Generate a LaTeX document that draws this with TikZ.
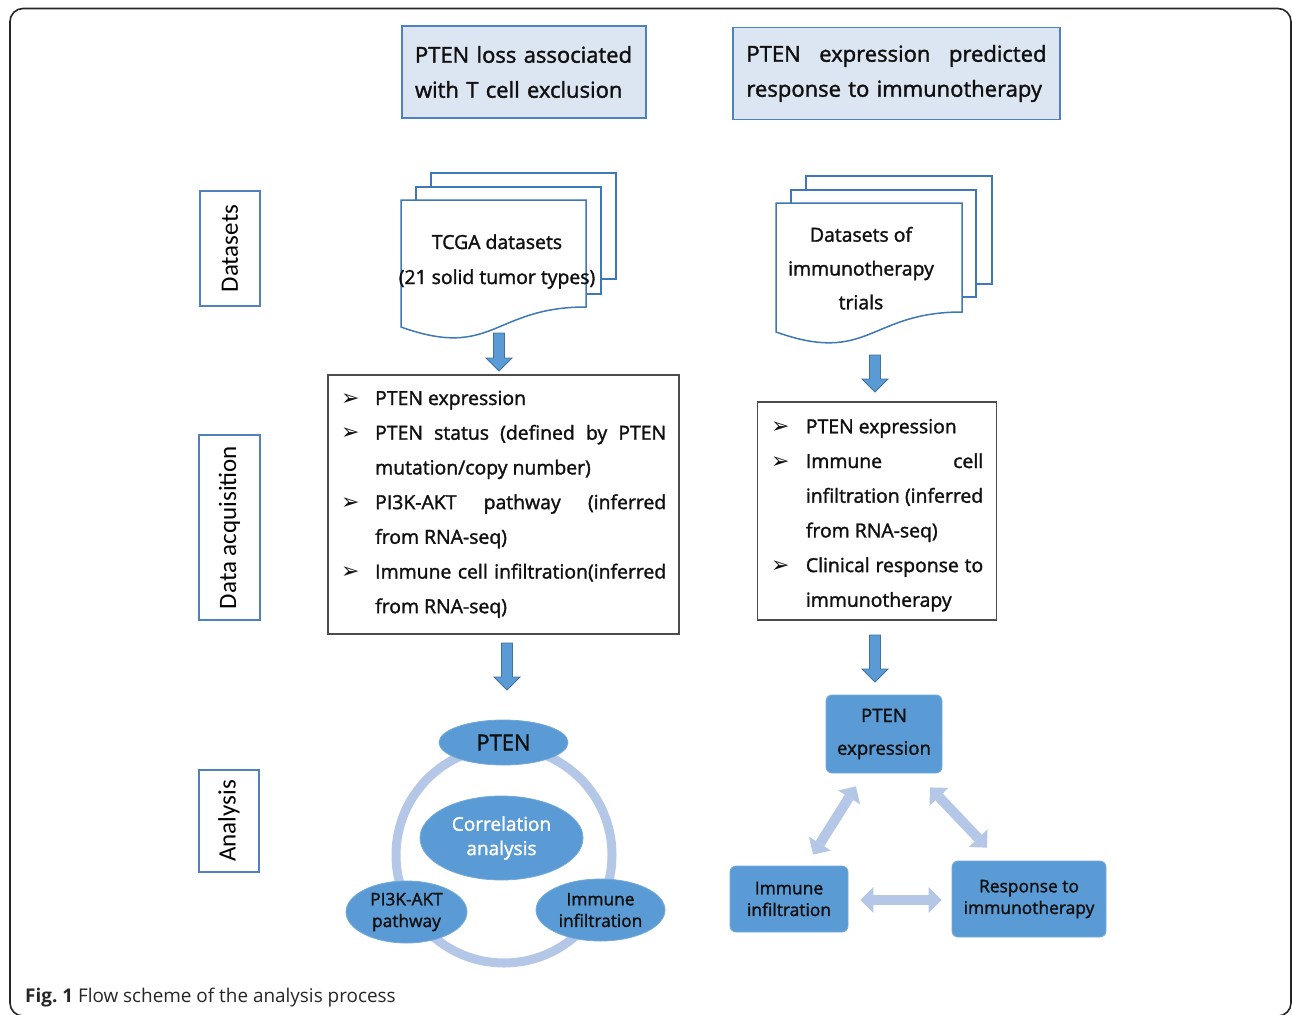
\documentclass[tikz,border=0pt]{standalone}
\usepackage{fontspec}
\setmainfont{Open Sans}
\newfontfamily\med{Open Sans}[FakeBold=1.6]
\newfontfamily\carl{Carlito}
\newfontfamily\djv{DejaVu Sans}
\usetikzlibrary{calc,arrows.meta,shapes.geometric}
\definecolor{topfill}{HTML}{DCE6F2}
\definecolor{boxblue}{HTML}{4F81BD}
\definecolor{docblue}{HTML}{3E78B6}
\definecolor{nodeblue}{HTML}{5B9BD5}
\definecolor{lightblue}{HTML}{B4C7E7}
\definecolor{arrowdark}{HTML}{41719C}
\definecolor{txt}{HTML}{101010}
\newcommand\lfont{\med\fontsize{19.4}{34.7}\selectfont}
\newcommand\jl[2]{\makebox[#1pt][s]{#2}}
\newcommand\blockdown[2]{%
  \filldraw[barrow] ($(#1)+(-5.5,0)$) -- ($(#1)+(5.5,0)$) -- ($(#2)+(5.5,-13)$) -- ($(#2)+(13,-13)$) -- (#2) -- ($(#2)+(-13,-13)$) -- ($(#2)+(-5.5,-13)$) -- cycle;}
\tikzset{
  topbox/.style={draw=boxblue, line width=1.5pt, fill=topfill, inner ysep=0pt, align=left, text=txt, font=\med\fontsize{22}{35}\selectfont},
  lbl/.style={draw=boxblue, line width=1.6pt, fill=white, rotate=90, inner sep=0pt, text=black, font=\carl\fontsize{25}{25}\selectfont},
  docpath/.style={draw=docblue, line width=1.5pt, fill=white},
  doctxt/.style={anchor=base, inner sep=0pt, text=txt, font=\lfont},
  listbox/.style={draw=black!70, line width=1.2pt, fill=white, inner sep=0pt},
  ltxt/.style={anchor=base west, inner sep=0pt, text=txt, font=\lfont},
  bul/.style={anchor=base west, inner sep=0pt, text=txt, font=\djv\fontsize{22}{22}\selectfont},
  barrow/.style={fill=nodeblue, draw=arrowdark, line width=0.8pt},
  ell/.style={ellipse, fill=nodeblue, draw=nodeblue!85!white, line width=0.8pt, inner sep=0pt, align=center, text=txt},
  rbox/.style={rectangle, rounded corners=6pt, fill=nodeblue, draw=nodeblue!85!white, line width=0.8pt, inner sep=0pt, align=center, text=txt},
  dbl/.style={draw=lightblue, line width=10pt, {Triangle[width=26pt,length=13pt,line width=0pt]}-{Triangle[width=26pt,length=13pt,line width=0pt]}},
}
\begin{document}
\begin{tikzpicture}[x=1pt,y=-1pt]
\useasboundingbox (0,0) rectangle (1292,1014);
% outer frame
\draw[black!85, line width=1.6pt, rounded corners=13pt] (10,8.5) rectangle (1291,1016);

% top headers
\node[topbox, text width=218pt, inner xsep=13pt, minimum height=92pt] (top1) at (524,72) {PTEN loss associated\\with T cell exclusion};
\node[topbox, text width=300pt, inner xsep=13.5pt, minimum height=92pt] (top2) at (896.5,73.5) {PTEN\hfill expression\hfill predicted\\response to immunotherapy};

% row labels
\node[lbl, minimum width=115pt, minimum height=60pt] (labds) at (230,248.5) {Datasets};
\node[lbl, minimum width=185pt, minimum height=61pt] (labda) at (229.5,527.5) {Data acquisition};
\node[lbl, minimum width=102pt, minimum height=60pt] (laban) at (229,821) {Analysis};

% TCGA document stack
\filldraw[docpath] (431,173) rectangle (616,279);
\filldraw[docpath] (416,187) rectangle (601,294);
\filldraw[docpath] (401,200) -- (586,200) -- (586,307) .. controls (493,307) and (493,360) .. (401,327) -- cycle;
\node[doctxt] (d1a) at (497,249) {TCGA datasets};
\node[doctxt] (d1b) at (497,284) {(21 solid tumor types)};

% immunotherapy document stack
\filldraw[docpath] (806,176) rectangle (992,284);
\filldraw[docpath] (791,190) rectangle (976,297);
\filldraw[docpath] (776,203) -- (962,203) -- (962,312) .. controls (869,312) and (869,365) .. (776,332) -- cycle;
\node[doctxt] (d2a) at (861,241.7) {Datasets of};
\node[doctxt] (d2b) at (861,275.5) {immunotherapy};
\node[doctxt] (d2c) at (861,309.3) {trials};

% list box 1
\node[listbox, minimum width=351pt, minimum height=259pt] (list1) at (503.5,504.5) {};
\node[bul] (b1a) at (341,405) {➢};
\node[ltxt] (l1a) at (375,405) {PTEN expression};
\node[bul] (b1b) at (341,439.7) {➢};
\node[ltxt] (l1b) at (375,439.7) {\jl{291}{PTEN status (defined by PTEN}};
\node[ltxt] (l1c) at (375,474.4) {mutation/copy number)};
\node[bul] (b1c) at (341,509.1) {➢};
\node[ltxt] (l1d) at (375,509.1) {\jl{291}{PI3K-AKT pathway (inferred}};
\node[ltxt] (l1e) at (375,543.8) {from RNA-seq)};
\node[bul] (b1d) at (341,578.5) {➢};
\node[ltxt] (l1f) at (375,578.5) {\jl{291}{Immune cell infiltration(inferred}};
\node[ltxt] (l1g) at (375,613.2) {from RNA-seq)};

% list box 2
\node[listbox, minimum width=239pt, minimum height=218pt] (list2) at (877,511) {};
\node[bul] (b2a) at (771,433.3) {➢};
\node[ltxt] (l2a) at (805.7,433.3) {PTEN expression};
\node[bul] (b2b) at (771,468) {➢};
\node[ltxt] (l2b) at (805.7,468) {\jl{177.3}{Immune cell}};
\node[ltxt] (l2c) at (805.7,502.7) {\jl{177.3}{infiltration (inferred}};
\node[ltxt] (l2d) at (805.7,537.4) {from RNA-seq)};
\node[bul] (b2c) at (771,572.1) {➢};
\node[ltxt] (l2e) at (805.7,572.1) {\jl{177.3}{Clinical response to}};
\node[ltxt] (l2f) at (805.7,606.8) {immunotherapy};

% block arrows
\coordinate (a1s) at (499,333); \coordinate (a1e) at (499,371);
\coordinate (a2s) at (875,355); \coordinate (a2e) at (875,392);
\coordinate (a3s) at (507,643); \coordinate (a3e) at (507,690);
\coordinate (a4s) at (875,635); \coordinate (a4e) at (875,682);
\blockdown{a1s}{a1e}
\blockdown{a2s}{a2e}
\blockdown{a3s}{a3e}
\blockdown{a4s}{a4e}

% left analysis
\draw[lightblue, line width=9pt] (504,855) circle[radius=108];
\node[ell, minimum width=129pt, minimum height=45pt, font=\med\fontsize{22}{22}\selectfont] (pten) at (503.5,742.5) {PTEN};
\node[ell, minimum width=163pt, minimum height=84pt, text=white, font=\med\fontsize{19}{24.3}\selectfont] (corr) at (501.5,838) {Correlation\\analysis};
\node[ell, minimum width=121pt, minimum height=62pt, font=\med\fontsize{17.3}{21.7}\selectfont] (pi3k) at (406.5,912) {PI3K-AKT\\pathway};
\node[ell, minimum width=129pt, minimum height=62pt, font=\med\fontsize{17.3}{21.7}\selectfont] (immell) at (600.5,910) {Immune\\infiltration};

% right analysis
\node[rbox, minimum width=116pt, minimum height=78pt, font=\med\fontsize{18.6}{32.7}\selectfont] (ptenbox) at (884,734) {PTEN\\expression};
\node[rbox, minimum width=118pt, minimum height=66pt, font=\med\fontsize{17.4}{21.7}\selectfont] (immbox) at (789,899) {Immune\\infiltration};
\node[rbox, minimum width=154pt, minimum height=76pt, font=\med\fontsize{17.4}{21.7}\selectfont] (respbox) at (1029,899) {Response to\\immunotherapy};
\draw[dbl] ($(ptenbox.south)+(-28,13)$) -- ($(immbox.north)+(24,-11)$);
\draw[dbl] ($(ptenbox.south)+(46,14)$) -- ($(respbox.north)+(-42,-13)$);
\draw[dbl] ($(immbox.east)+(12,1)$) -- ($(respbox.west)+(-10,1)$);

% caption
\node[anchor=base west, inner sep=0pt, text=black!85, font=\fontsize{18.9}{18.9}\selectfont] (cap) at (25,1002.7) {\textbf{Fig.~1} Flow scheme of the analysis process};
\end{tikzpicture}
\end{document}
